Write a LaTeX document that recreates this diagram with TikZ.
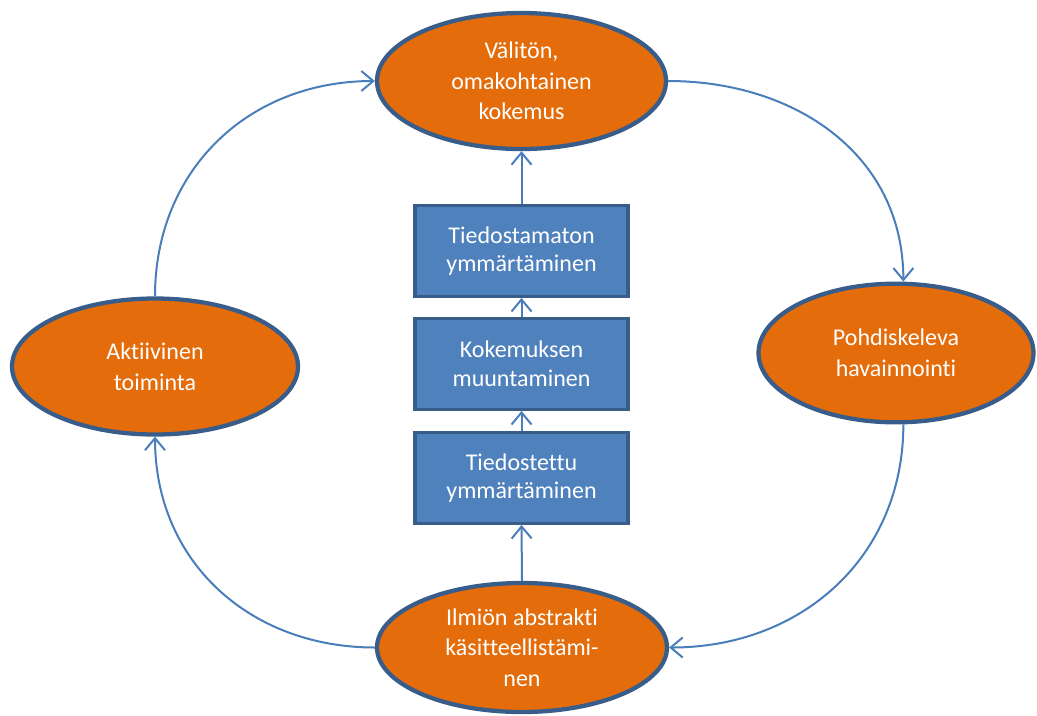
\documentclass[tikz,border=0pt]{standalone}
\usepackage{fontspec}
\setmainfont{Carlito}[Ligatures={NoCommon}]
\usetikzlibrary{shapes.geometric,arrows.meta}
\definecolor{orangefill}{HTML}{E46C0A}
\definecolor{darkblue}{HTML}{385D8A}
\definecolor{boxblue}{HTML}{4F81BD}
\definecolor{linkblue}{HTML}{4A7EBB}
\tikzset{
  oval/.style={ellipse, draw=darkblue, line width=3.2pt, fill=orangefill,
    text=white, align=center, inner sep=0pt, font=\fontsize{18}{23}\selectfont},
  bluebox/.style={rectangle, draw=darkblue, line width=2.4pt, fill=boxblue,
    text=white, align=center, inner sep=0pt, minimum width=159.75pt,
    minimum height=68pt, font=\fontsize{18}{21.5}\selectfont},
  link/.style={draw=linkblue, line width=1.5pt,
    -{Straight Barb[length=9pt,width=15pt,line width=1.5pt]}}
}
\begin{document}
\begin{tikzpicture}[x=0.75pt,y=-0.75pt]
\useasboundingbox (0,0) rectangle (1037,715);
\node[oval, minimum width=216.75pt, minimum height=102pt] (top) at (521.5,81) {Välitön,\\omakohtainen\\kokemus};
\node[oval, minimum width=214.5pt, minimum height=102pt] (left) at (155,366.5) {Aktiivinen\\toiminta};
\node[oval, minimum width=206.25pt, minimum height=104pt] (right) at (896,353) {Pohdiskeleva\\havainnointi};
\node[oval, minimum width=217.5pt, minimum height=96.75pt] (bottom) at (522,647.5) {Ilmiön abstrakti\\käsitteellistämi-\\nen};
\node[bluebox] (b1) at (521.5,251) {Tiedostamaton\\ymmärtäminen};
\node[bluebox] (b2) at (521.5,364) {Kokemuksen\\muuntaminen};
\node[bluebox] (b3) at (521.5,478) {Tiedostettu\\ymmärtäminen};
\draw[link] (bottom.north) -- (b3.south);
\draw[link] (b3.north) -- (b2.south);
\draw[link] (b2.north) -- (b1.south);
\draw[link] (b1.north) -- (top.south);
\draw[link] (top.east) to[out=0,in=90,looseness=1.05] ([xshift=5.5pt]right.north);
\draw[link] ([xshift=5.5pt]right.south) to[out=-90,in=0,looseness=1.05] (bottom.east);
\draw[link] (bottom.west) to[out=180,in=-90,looseness=1.05] (left.south);
\draw[link] (left.north) to[out=90,in=180,looseness=1.05] (top.west);
\end{tikzpicture}
\end{document}
